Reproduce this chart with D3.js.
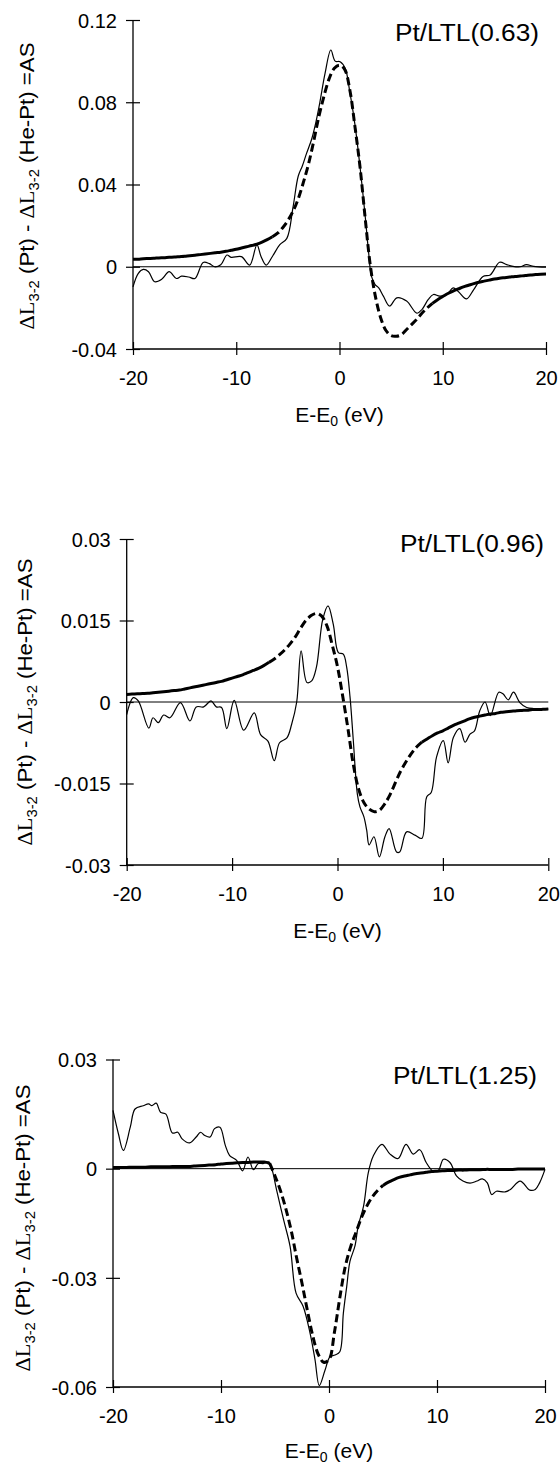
<!DOCTYPE html>
<html><head><meta charset="utf-8">
<script src="https://cdn.jsdelivr.net/npm/d3@7/dist/d3.min.js"></script>
<style>
body{margin:0;background:#fff}
svg{display:block}
text{font-family:"Liberation Sans",Arial,sans-serif;fill:#000}
</style>
</head><body>
<svg id="c" width="560" height="1466"></svg>
<script>
// ---------- data ----------
const xTicks = [-20, -10, 0, 10, 20];
const xTickLabels = ["-20", "-10", "0", "10", "20"];
const titles = ["Pt/LTL(0.63)", "Pt/LTL(0.96)", "Pt/LTL(1.25)"];

const yTicks063 = [-0.04, 0, 0.04, 0.08, 0.12];
const yLabels063 = ["-0.04", "0", "0.04", "0.08", "0.12"];
const yTicks096 = [-0.03, -0.015, 0, 0.015, 0.03];
const yLabels096 = ["-0.03", "-0.015", "0", "0.015", "0.03"];
const yTicks125 = [-0.06, -0.03, 0, 0.03];
const yLabels125 = ["-0.06", "-0.03", "0", "0.03"];

// energy grid of the calculated curves, -20 ... 20 eV every 0.5 eV
const theoryE = d3.range(-20, 20.25, 0.5);

const theory063 = [0.0036,0.0037,0.0039,0.0040,0.0041,0.0043,0.0044,0.0046,0.0047,0.0049,
 0.0051,0.0054,0.0056,0.0059,0.0062,0.0065,0.0068,0.0071,0.0075,0.0080,
 0.0085,0.0091,0.0097,0.0103,0.0110,0.0120,0.0132,0.0146,0.0163,0.0190,
 0.0225,0.0270,0.0330,0.0410,0.0500,0.0610,0.0730,0.0830,0.0915,0.0965,
 0.0980,0.0960,0.0860,0.0680,0.0480,0.0230,0.0000,-0.0150,-0.0250,-0.0310,
 -0.0335,-0.0338,-0.0330,-0.0305,-0.0280,-0.0255,-0.0225,-0.0200,-0.0178,-0.0160,
 -0.0145,-0.0130,-0.0118,-0.0108,-0.0098,-0.0090,-0.0082,-0.0075,-0.0070,-0.0065,
 -0.0060,-0.0056,-0.0053,-0.0050,-0.0047,-0.0045,-0.0043,-0.0040,-0.0038,-0.0036,-0.0035];

const theory096 = [0.0014,0.00145,0.0015,0.00155,0.0016,0.0017,0.0018,0.0019,0.0020,0.0021,
 0.0022,0.0024,0.0026,0.0028,0.0030,0.0032,0.0034,0.0036,0.0038,0.0041,
 0.0044,0.0047,0.0050,0.0054,0.0058,0.0062,0.0067,0.0073,0.0079,0.0087,
 0.0096,0.0107,0.0120,0.0136,0.0150,0.0159,0.0163,0.0158,0.0140,0.0105,
 0.0065,0.0010,-0.0050,-0.0115,-0.0160,-0.0185,-0.0197,-0.0202,-0.0199,-0.0187,
 -0.0170,-0.0148,-0.0127,-0.0110,-0.0095,-0.0083,-0.0074,-0.0068,-0.0062,-0.0057,
 -0.0053,-0.0048,-0.0043,-0.0039,-0.0035,-0.0031,-0.0028,-0.0026,-0.0024,-0.0022,
 -0.0021,-0.0019,-0.0018,-0.0017,-0.0016,-0.00155,-0.0015,-0.0014,-0.0014,-0.00135,-0.0013];

const theory125 = [0.0003,0.0003,0.0003,0.0004,0.0004,0.0004,0.0004,0.0005,0.0005,0.0005,
 0.0005,0.0006,0.0006,0.0006,0.0006,0.0007,0.0008,0.0009,0.0010,0.0011,
 0.0013,0.0014,0.0015,0.0016,0.0017,0.0017,0.0018,0.0018,0.0018,0.0015,
 -0.0020,-0.0060,-0.0110,-0.0170,-0.0245,-0.0315,-0.0390,-0.0460,-0.0510,-0.0532,
 -0.0525,-0.0450,-0.0355,-0.0270,-0.0215,-0.0175,-0.0135,-0.0103,-0.0078,-0.0060,
 -0.0046,-0.0037,-0.0030,-0.0024,-0.0020,-0.0017,-0.0014,-0.0012,-0.0010,-0.0008,
 -0.0007,-0.0006,-0.0005,-0.0005,-0.0004,-0.0004,-0.0003,-0.0003,-0.0003,-0.0002,
 -0.0002,-0.0002,-0.0002,-0.0002,-0.0002,-0.0001,-0.0001,-0.0001,-0.0001,-0.0001,-0.0001];

const meas063E = [-20,-19.5,-19,-18.5,-17.9,-17.2,-16.5,-15.8,-15.3,-14.6,-14.0,-13.2,-12.6,-12.1,-11.5,-10.9,-10.5,-9.5,-8.7,-8.0,-7.6,-7.1,-6.5,-5.8,-5.1,-4.5,-4.0,-3.6,-3.2,-2.7,-2.3,-1.9,-1.4,-0.84,-0.42,0.06,0.55,1.0,1.5,2.0,2.5,2.8,3.1,3.45,3.8,4.25,4.85,5.55,6.5,7.5,8.0,8.6,9.1,9.7,10.4,11.0,11.5,12.3,13.0,13.9,14.6,15.5,16.2,16.8,17.5,18.1,18.8,20];
const meas063V = [-0.0098,-0.0033,-0.0013,-0.0024,-0.0073,-0.0060,-0.0024,-0.0057,-0.0046,-0.0050,-0.0057,0.0021,0.0015,0.0000,0.0010,0.0057,0.0046,0.0049,0.0008,0.0106,0.0050,0.0008,0.0050,0.0106,0.0138,0.029,0.044,0.049,0.055,0.062,0.070,0.080,0.094,0.1054,0.100,0.0997,0.0965,0.085,0.069,0.048,0.024,0.008,-0.0047,-0.0087,-0.0103,-0.0143,-0.0191,-0.0151,-0.0167,-0.0226,-0.0207,-0.0159,-0.0135,-0.0143,-0.0135,-0.0103,-0.0120,-0.0156,-0.0111,-0.0047,-0.0040,0.0022,0.0010,0.0002,0.0000,0.0010,0.0002,-0.0002];

const meas096E = [-20,-19.37,-18.9,-17.9,-17.5,-17.0,-16.5,-15.9,-14.9,-14.0,-13.4,-12.7,-12.0,-11.5,-11.0,-10.5,-9.8,-8.9,-7.9,-7.3,-6.6,-6.0,-5.5,-4.8,-4.35,-3.87,-3.45,-2.9,-2.45,-2.0,-1.4,-0.9,-0.4,0.08,0.55,0.87,1.19,1.5,1.88,2.13,2.5,2.77,3.0,3.46,3.97,4.5,4.9,5.6,5.9,6.56,7.35,8.0,8.46,8.9,9.4,10.04,10.5,11.0,11.6,12.1,12.57,13.0,13.5,14.0,14.5,15.3,15.7,16.2,16.7,17.3,17.95,18.6,19.2,20];
const meas096V = [-0.0023,0.0008,0.0002,-0.0048,-0.0029,-0.0038,-0.0024,-0.0029,-0.0001,-0.0035,-0.0009,-0.0009,0.0002,-0.0009,-0.0010,-0.0049,0.0003,-0.0052,-0.0020,-0.0060,-0.0072,-0.0108,-0.0075,-0.0066,-0.0041,0.0000,0.0094,0.0036,0.0039,0.0064,0.0152,0.0177,0.0143,0.0091,0.0088,0.0064,0.0009,-0.0071,-0.0169,-0.0193,-0.0211,-0.0236,-0.0263,-0.0248,-0.0285,-0.0248,-0.0233,-0.0276,-0.0276,-0.0239,-0.0245,-0.0251,-0.0175,-0.0166,-0.0101,-0.0071,-0.0112,-0.0065,-0.0049,-0.0074,-0.0059,-0.0053,-0.0016,0.0000,-0.0025,0.0018,0.0015,0.0004,0.0018,-0.0001,-0.0010,-0.0012,-0.0012,-0.0013];

const meas125E = [-20,-19.5,-19.04,-18.4,-17.96,-17.2,-16.7,-16.4,-16.0,-15.6,-15.1,-14.5,-14.0,-13.6,-12.9,-12.3,-11.9,-11.5,-11.0,-10.6,-10.1,-9.6,-9.2,-8.55,-8.0,-7.5,-7.0,-6.55,-6.1,-5.6,-5.3,-4.85,-4.2,-3.6,-3.05,-2.4,-1.76,-1.3,-0.9,-0.37,0.09,0.56,1.0,1.33,1.64,1.94,2.4,2.7,3.2,3.64,4.1,4.9,5.65,6.4,7.13,7.8,8.4,9.0,9.6,10.1,10.6,11.2,11.8,12.4,13.06,13.7,14.2,14.66,15.06,15.5,16.3,16.8,17.7,18.6,19.1,19.5,20];
const meas125V = [0.016,0.0096,0.005,0.0114,0.0164,0.0173,0.0178,0.0173,0.018,0.0155,0.015,0.0098,0.010,0.0082,0.0071,0.0087,0.010,0.0091,0.0087,0.011,0.0114,0.0064,0.0036,0.0023,-0.0006,0.0032,-0.0003,0.0014,0.0014,0.0018,0.0,-0.0059,-0.0141,-0.0214,-0.0342,-0.0378,-0.0451,-0.0524,-0.0596,-0.0554,-0.0517,-0.0512,-0.0503,-0.0397,-0.0324,-0.0255,-0.0213,-0.0158,-0.0103,-0.0011,0.0035,0.0067,0.004,0.0028,0.0067,0.004,0.0052,0.0017,-0.0006,-0.0006,0.0026,0.0017,-0.002,-0.0034,-0.004,-0.0034,-0.0028,-0.0039,-0.0071,-0.0062,-0.0064,-0.0057,-0.0034,-0.0059,-0.0057,-0.0039,-0.0002];

// ---------- layout / style ----------
const panels = [
  {title: titles[0], yTicks: yTicks063, yLabels: yLabels063, theory: theory063, mE: meas063E, mV: meas063V,
   dash: [-6.5, 9], x0: 133, x1: 546, yTop: 20, yBot: 349, titleX: 539, titleY: 41, ylabX: 33.5, ylabY: 186, xtitY: 422},
  {title: titles[1], yTicks: yTicks096, yLabels: yLabels096, theory: theory096, mE: meas096E, mV: meas096V,
   dash: [-6.5, 8], x0: 126.7, x1: 548.3, yTop: 539, yBot: 865, titleX: 544, titleY: 552, ylabX: 32, ylabY: 702, xtitY: 938},
  {title: titles[2], yTicks: yTicks125, yLabels: yLabels125, theory: theory125, mE: meas125E, mV: meas125V,
   dash: [-5.5, 5], x0: 113, x1: 545, yTop: 1059.5, yBot: 1387, titleX: 537, titleY: 1084, ylabX: 29.5, ylabY: 1228, xtitY: 1458}
];

const svg = d3.select("#c");
const FONT = '"Liberation Sans",Arial,sans-serif';

function drawPanel(p) {
  const g = svg.append("g");
  const yExt = d3.extent(p.yTicks);
  const x = d3.scaleLinear().domain([-20, 20]).range([p.x0, p.x1]);
  const y = d3.scaleLinear().domain(yExt).range([p.yBot, p.yTop]);

  // zero line
  g.append("line").attr("x1", x(-20)).attr("x2", x(20)).attr("y1", y(0)).attr("y2", y(0))
    .attr("stroke", "#000").attr("stroke-width", 1);

  // y axis
  const ya = g.append("g").attr("transform", `translate(${p.x0},0)`)
    .call(d3.axisLeft(y).tickValues(p.yTicks).tickFormat((d, i) => p.yLabels[i]).tickSizeOuter(0));
  ya.select(".domain").remove();
  ya.selectAll(".tick line").attr("x1", 7).attr("x2", -7).attr("stroke", "#000").attr("stroke-width", 1.2);
  ya.selectAll(".tick text").attr("x", -16).attr("dy", "0.36em")
    .style("font-size", "20px").style("font-family", FONT).attr("fill", "#000");
  g.append("line").attr("x1", p.x0).attr("x2", p.x0).attr("y1", y(yExt[1])).attr("y2", y(yExt[0]))
    .attr("stroke", "#000").attr("stroke-width", 1.3);

  // x axis
  const xa = g.append("g").attr("transform", `translate(0,${p.yBot})`)
    .call(d3.axisBottom(x).tickValues(xTicks).tickFormat((d, i) => xTickLabels[i]).tickSizeOuter(0));
  xa.select(".domain").remove();
  xa.selectAll(".tick line").attr("y1", -7).attr("y2", 6).attr("stroke", "#000").attr("stroke-width", 1.2);
  xa.selectAll(".tick text").attr("y", 22).attr("dy", "0.72em")
    .style("font-size", "20px").style("font-family", FONT).attr("fill", "#000");
  g.append("line").attr("x1", p.x0).attr("x2", p.x1).attr("y1", p.yBot).attr("y2", p.yBot)
    .attr("stroke", "#000").attr("stroke-width", 1.3);

  // calculated curve: thick solid in the tails, dashed in the middle
  const tp = theoryE.map((e, i) => [e, p.theory[i]]);
  const tline = d3.line().x(v => x(v[0])).y(v => y(v[1])).curve(d3.curveCatmullRom.alpha(0.5));
  const eps = 1e-6;
  const parts = [
    {pts: tp.filter(v => v[0] <= p.dash[0] + eps), dash: null},
    {pts: tp.filter(v => v[0] >= p.dash[0] - eps && v[0] <= p.dash[1] + eps), dash: "8,4"},
    {pts: tp.filter(v => v[0] >= p.dash[1] - eps), dash: null}
  ];
  parts.forEach(pt => {
    g.append("path").attr("d", tline(pt.pts)).attr("fill", "none").attr("stroke", "#000")
      .attr("stroke-width", 3).attr("stroke-dasharray", pt.dash);
  });

  // measured curve
  const pts = p.mE.map((e, i) => [e, p.mV[i]]);
  const line = d3.line().x(v => x(v[0])).y(v => y(v[1])).curve(d3.curveCatmullRom.alpha(0.5));
  g.append("path").attr("d", line(pts)).attr("fill", "none").attr("stroke", "#000")
    .attr("stroke-width", 1.2).attr("stroke-linejoin", "round");

  // panel title
  g.append("text").attr("x", p.titleX).attr("y", p.titleY).attr("text-anchor", "end")
    .attr("textLength", 144).attr("lengthAdjust", "spacingAndGlyphs")
    .style("font-size", "23px").text(p.title);

  // x title
  const xt = g.append("text").attr("x", (p.x0 + p.x1) / 2).attr("y", p.xtitY).attr("text-anchor", "middle")
    .style("font-size", "21px");
  xt.append("tspan").text("E-E");
  xt.append("tspan").attr("dy", 4).style("font-size", "14px").text("0");
  xt.append("tspan").attr("dy", -4).text(" (eV)");

  // y title
  const yt = g.append("text").attr("transform", `translate(${p.ylabX},${p.ylabY}) rotate(-90)`)
    .attr("text-anchor", "middle").style("font-size", "21px")
    .attr("textLength", 287).attr("lengthAdjust", "spacingAndGlyphs");
  yt.append("tspan").style("font-family", '"Liberation Serif","Times New Roman",serif').text("\u0394L");
  yt.append("tspan").attr("dy", 5).style("font-size", "14px").text("3-2");
  yt.append("tspan").attr("dy", -5).text(" (Pt) - ");
  yt.append("tspan").style("font-family", '"Liberation Serif","Times New Roman",serif').text("\u0394L");
  yt.append("tspan").attr("dy", 5).style("font-size", "14px").text("3-2");
  yt.append("tspan").attr("dy", -5).text(" (He-Pt) =AS");
}

panels.forEach(drawPanel);
</script>
</body></html>
